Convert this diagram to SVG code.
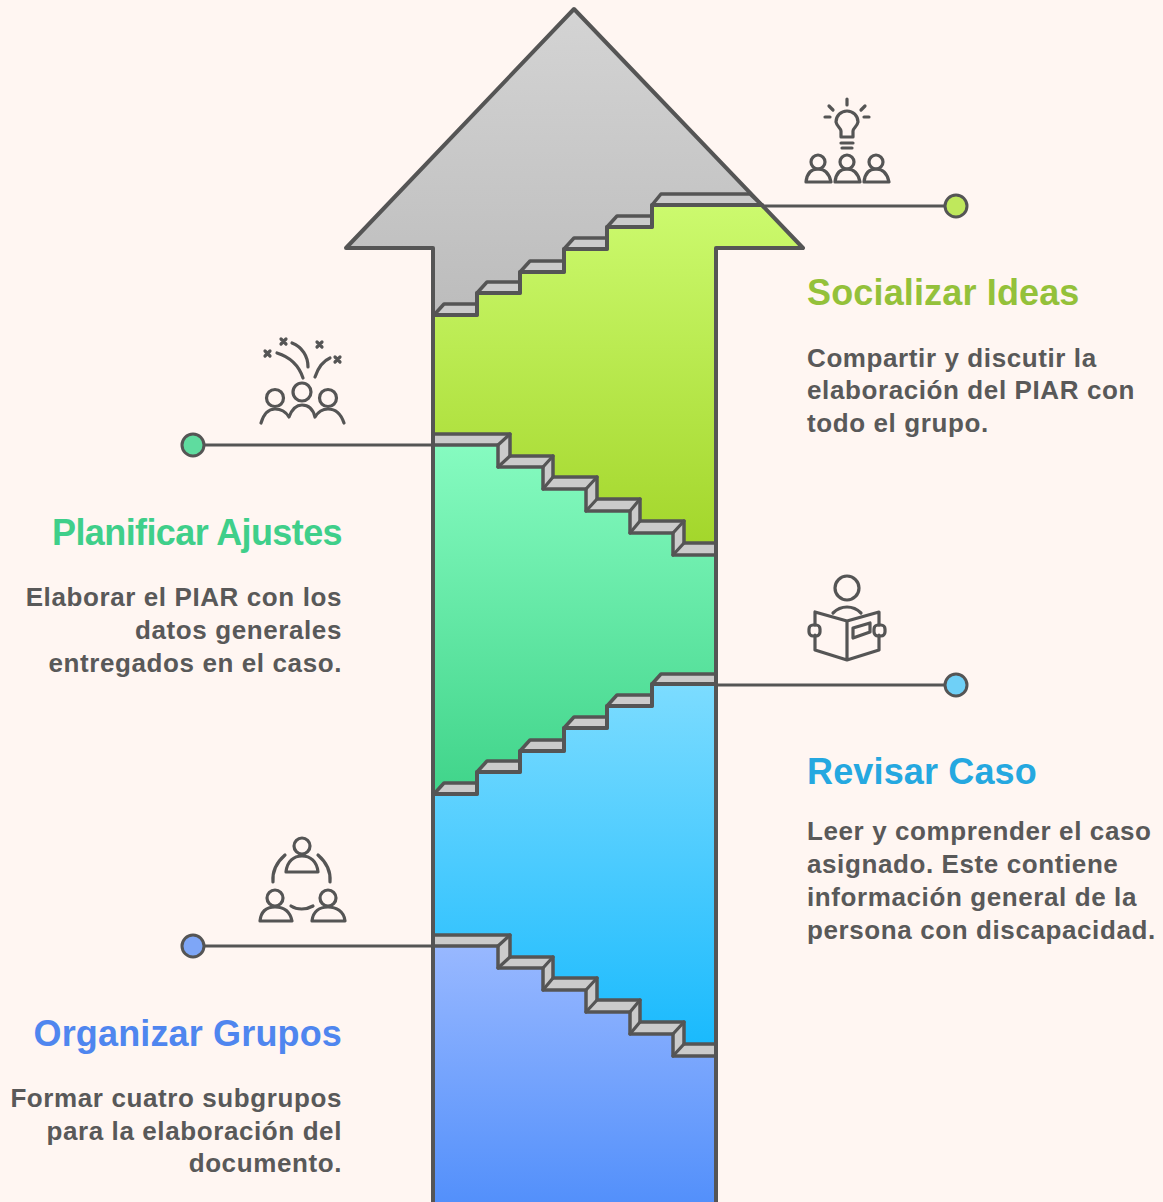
<svg xmlns="http://www.w3.org/2000/svg" width="1163" height="1202" viewBox="0 0 1163 1202">
<style>
.ln{fill:none;stroke:#555;stroke-width:4;stroke-linejoin:round;stroke-linecap:round}
.st{fill:#cbcbcb;stroke:#555;stroke-width:3.5;stroke-linejoin:round}
.ic{fill:none;stroke:#555;stroke-width:3.2;stroke-linejoin:round;stroke-linecap:round}
.cn{fill:none;stroke:#555;stroke-width:3}
.dot{stroke:#555;stroke-width:3}
.h{font-family:"Liberation Sans",Arial,sans-serif;font-weight:700;font-size:36px;letter-spacing:.15px}
.b{font-family:"Liberation Sans",Arial,sans-serif;font-weight:700;font-size:26px;fill:#595959;letter-spacing:.6px}
.e{text-anchor:end}
</style>
<defs>
<linearGradient id="g0" gradientUnits="userSpaceOnUse" x1="0" y1="10" x2="0" y2="315"><stop offset="0" stop-color="#d4d4d4"/><stop offset="1" stop-color="#bcbcbc"/></linearGradient>
<linearGradient id="g1" gradientUnits="userSpaceOnUse" x1="0" y1="205" x2="0" y2="555"><stop offset="0" stop-color="#ccfa6e"/><stop offset="1" stop-color="#a2d529"/></linearGradient>
<linearGradient id="g2" gradientUnits="userSpaceOnUse" x1="0" y1="445" x2="0" y2="794"><stop offset="0" stop-color="#86fbc0"/><stop offset="1" stop-color="#40d48a"/></linearGradient>
<linearGradient id="g3" gradientUnits="userSpaceOnUse" x1="0" y1="684" x2="0" y2="1055"><stop offset="0" stop-color="#7cdcff"/><stop offset="1" stop-color="#17b9fd"/></linearGradient>
<linearGradient id="g4" gradientUnits="userSpaceOnUse" x1="0" y1="946" x2="0" y2="1202"><stop offset="0" stop-color="#98b8ff"/><stop offset="1" stop-color="#5390fb"/></linearGradient>
</defs>
<rect width="1163" height="1202" fill="#fff6f2"/>
<g id="arrow">
<path id="band-top" d="M574 9L803 248H716V1202H433V248H346Z" fill="url(#g0)"/>
<path id="band-socializar" d="M433 315H477V293H520V272H564V249H607V227H652V205H762L803 248H716V556H673V533H630V511H586V489H543V467H498V445H433Z" fill="url(#g1)"/>
<path id="band-planificar" d="M433 445H498V467H543V489H586V511H630V533H673V555H716V685H652V706H607V728H564V751H520V772H477V794H433Z" fill="url(#g2)"/>
<path id="band-revisar" d="M433 794H477V772H520V751H564V728H607V706H652V684H716V1056H673V1034H630V1012H586V990H543V968H498V946H433Z" fill="url(#g3)"/>
<path id="band-organizar" d="M433 946H498V968H543V990H586V1012H630V1034H673V1056H716V1202H433Z" fill="url(#g4)"/>
<g id="stairs-1">
<path class="st" d="M434 315L444 304H477V315Z"/><path class="st" d="M477 293L487 282H520V293Z"/><path class="st" d="M520 272L530 261H564V272Z"/><path class="st" d="M564 249L574 238H607V249Z"/><path class="st" d="M607 227L617 216H652V227Z"/><path class="st" d="M652 205L661 194H750L762 205Z"/>
<path class="ln" d="M433 315H477V293H520V272H564V249H607V227H652V205H762"/>
</g>
<g id="stairs-2">
<path class="st" d="M433 434H510V456H553V477H597V499H640V521H684V543H716V555H673V533H630V511H586V489H543V467H498V445H433Z"/>
<path class="ic" d="M498 445L510 434M498 467L510 456M543 489L553 477M586 511L597 499M630 533L640 521M673 555L684 543M543 467L553 456M586 489L597 477M630 511L640 499M673 533L684 521"/>
</g>
<g id="stairs-3">
<path class="st" d="M434 794L444 783H477V794Z"/><path class="st" d="M477 772L487 761H520V772Z"/><path class="st" d="M520 751L530 740H564V751Z"/><path class="st" d="M564 728L574 717H607V728Z"/><path class="st" d="M607 706L617 695H652V706Z"/><path class="st" d="M652 684L661 674H716V684Z"/>
<path class="ln" d="M433 794H477V772H520V751H564V728H607V706H652V684H716"/>
</g>
<g id="stairs-4">
<path class="st" d="M433 935H510V957H553V978H597V1000H640V1022H684V1044H716V1056H673V1034H630V1012H586V990H543V968H498V946H433Z"/>
<path class="ic" d="M498 946L510 935M498 968L510 957M543 990L553 978M586 1012L597 1000M630 1034L640 1022M673 1056L684 1044M543 968L553 957M586 990L597 978M630 1012L640 1000M673 1034L684 1022"/>
</g>
<path id="outline" class="ln" d="M433 1202V248H346L574 9L803 248H716V1202"/>
</g>
<g id="connectors">
<path class="cn" d="M762 206H945"/><path class="cn" d="M716 685H945"/><path class="cn" d="M204 445H433"/><path class="cn" d="M204 946H433"/>
</g>
<g id="node-socializar">
<circle class="dot" cx="956" cy="206" r="11" fill="#bfe85c"/>
<g class="ic"><path d="M841 137V131C841 128 837 127 836 122A11 11 0 1 1 858 122C857 127 853 128 853 131V137Z"/><path d="M841 143H853M842 148H852M847 99V105M829 106L833 110M865 106L861 110M825 117H830M864 117H869"/>
<circle cx="818" cy="162" r="7"/><circle cx="847" cy="162" r="7"/><circle cx="876" cy="162" r="7"/><path d="M806 182C807 172 812 169 818 169C824 169 829 172 831 182ZM835 182C836 172 841 169 847 169C853 169 858 172 860 182ZM864 182C865 172 870 169 876 169C882 169 887 172 889 182Z"/></g>
<text class="h" x="807" y="305" fill="#94c13a">Socializar Ideas</text>
<text class="b" x="807" y="367">Compartir y discutir la</text><text class="b" x="807" y="399">elaboración del PIAR con</text><text class="b" x="807" y="432">todo el grupo.</text>
</g>
<g id="node-planificar">
<circle class="dot" cx="193" cy="445" r="11" fill="#5fdc9f"/>
<g class="ic"><circle cx="275" cy="398" r="8.5"/><circle cx="302" cy="392" r="9"/><circle cx="328" cy="398" r="8.5"/><path d="M261 423C264 413 269 409 275 409C281 409 286 412 289 417C292 409 297 405 302 405C308 405 313 409 315 417C318 412 323 409 328 409C335 409 341 414 344 423"/><path d="M277 353C290 357 299 366 303 378M292 343C302 347 308 356 308 367M315 377C318 368 323 361 330 358M265 351L270 356M270 351L265 356M281 339L286 344M286 339L281 344M317 342L322 347M322 342L317 347M335 357L340 362M340 357L335 362"/></g>
<text class="h e" x="342" y="545" fill="#3fcf8a" style="letter-spacing:-.6px">Planificar Ajustes</text>
<text class="b e" x="342" y="606">Elaborar el PIAR con los</text><text class="b e" x="342" y="639">datos generales</text><text class="b e" x="342" y="672">entregados en el caso.</text>
</g>
<g id="node-revisar">
<circle class="dot" cx="956" cy="685" r="11" fill="#6fd0f7"/>
<g class="ic"><circle cx="847" cy="588" r="12"/><path d="M833 613C837 609 842 607 847 607C852 607 857 609 861 613M847 621L815 612V625M815 635V650L847 660L879 650V635M879 625V612L847 621V660"/><rect x="809" y="625" width="11" height="11" rx="4"/><rect x="874" y="625" width="11" height="11" rx="4"/><path d="M853 628L870 623V632L853 638Z"/></g>
<text class="h" x="807" y="784" fill="#25a8e0">Revisar Caso</text>
<text class="b" x="807" y="840">Leer y comprender el caso</text><text class="b" x="807" y="873">asignado. Este contiene</text><text class="b" x="807" y="906">información general de la</text><text class="b" x="807" y="939">persona con discapacidad.</text>
</g>
<g id="node-organizar">
<circle class="dot" cx="193" cy="946" r="11" fill="#7ea6f7"/>
<g class="ic"><circle cx="302" cy="846" r="8"/><circle cx="275" cy="898" r="8"/><circle cx="328" cy="898" r="8"/><path d="M286 872C287 861 294 856 302 856C310 856 317 861 318 872ZM260 921C261 911 267 907 275 907C283 907 290 911 292 921ZM312 921C313 911 320 907 328 907C336 907 344 911 345 921Z"/><path d="M285 855C277 862 272 871 273 882M318 855C326 862 331 871 330 882M291 906C297 910 306 910 313 906"/></g>
<text class="h e" x="342" y="1046" fill="#4f86ef">Organizar Grupos</text>
<text class="b e" x="342" y="1107">Formar cuatro subgrupos</text><text class="b e" x="342" y="1140">para la elaboración del</text><text class="b e" x="342" y="1172">documento.</text>
</g>
</svg>
